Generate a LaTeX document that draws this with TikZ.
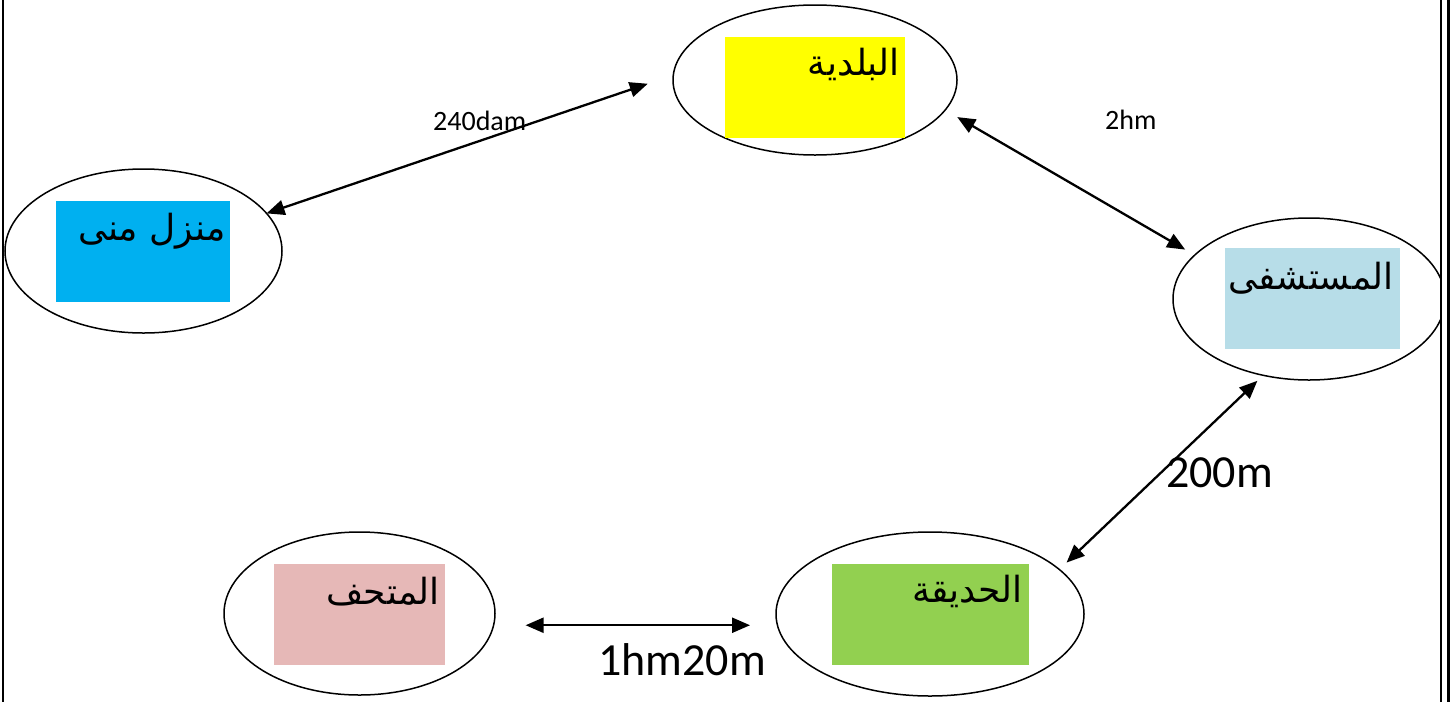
\documentclass[tikz,border=0pt]{standalone}
\usepackage{fontspec}
\setmainfont{Carlito}
\newfontfamily\arabicfont[Script=Arabic]{DejaVu Sans}
\TeXXeTstate=1
\usetikzlibrary{arrows.meta,shapes.geometric}
\definecolor{cyel}{HTML}{FFFF00}
\definecolor{cblue}{HTML}{00B0F0}
\definecolor{clblue}{HTML}{B7DDE8}
\definecolor{cgreen}{HTML}{92D050}
\definecolor{cpink}{HTML}{E6B8B7}
\begin{document}
\begin{tikzpicture}[x=1pt,y=-1pt,
  place/.style 2 args={draw, ellipse, line width=1.5pt, inner sep=0pt, outer sep=0pt, minimum width=#1, minimum height=#2},
  colbox/.style 2 args={fill=#1, draw=none, inner sep=0pt, outer sep=0pt, minimum width=#2, minimum height=101pt},
  arlabel/.style={anchor=base east, inner sep=0pt, font=\arabicfont\fontsize{36}{42}\selectfont},
  smalllab/.style={anchor=base west, inner sep=0pt, font=\fontsize{28}{34}\selectfont},
  biglab/.style={anchor=base west, inner sep=0pt, font=\fontsize{46}{55}\selectfont},
  conn/.style={{Triangle[length=18pt,width=15pt]}-{Triangle[length=18pt,width=15pt]}, line width=2.3pt},
  border/.style={line width=2.5pt}
]
\useasboundingbox (0,0) rectangle (1453,702);

% places
\node[place={284pt}{150pt}] (baladia) at (815,80) {};
\node[place={277pt}{164pt}] (mona) at (143.5,251) {};
\node[place={272pt}{162pt}] (hospital) at (1309,299) {};
\node[place={308pt}{164pt}] (garden) at (930,614) {};
\node[place={271pt}{163pt}] (museum) at (359.5,613.5) {};

% coloured boxes
\node[colbox={cyel}{180pt}] (bbaladia) at (815,87) {};
\node[colbox={cblue}{174pt}] (bmona) at (143,251.5) {};
\node[colbox={clblue}{175pt}] (bhospital) at (1312.5,298.5) {};
\node[colbox={cgreen}{197pt}] (bgarden) at (930.5,614.5) {};
\node[colbox={cpink}{171pt}] (bmuseum) at (359.5,614) {};

% arabic names
\node[arlabel] (tbaladia) at ([xshift=-5pt,yshift=-39pt]bbaladia.north east) {\beginR البلدية\endR};
\node[arlabel] (tmona) at ([xshift=-4pt,yshift=-39pt]bmona.north east) {\beginR منزل منى\endR};
\node[arlabel] (thospital) at ([xshift=-6pt,yshift=-41pt]bhospital.north east) {\beginR المستشفى\endR};
\node[arlabel] (tgarden) at ([xshift=-6pt,yshift=-38pt]bgarden.north east) {\beginR الحديقة\endR};
\node[arlabel] (tmuseum) at ([xshift=-5pt,yshift=-41pt]bmuseum.north east) {\beginR المتحف\endR};

% connectors
\draw[conn, shorten >=27pt] (mona.17) -- (baladia.178);
\draw[conn, shorten <=14pt, shorten >=11pt] (baladia.-13) -- (hospital.159);
\draw[conn, shorten <=8pt, shorten >=10pt] (hospital.239) -- (garden.19);
\draw[conn, shorten <=32pt, shorten >=28pt] (museum.-5.8) -- (museum.-5.8 -| garden.185);

% distance labels
\node[smalllab] (l1) at (433,130) {240dam};
\node[smalllab] (l2) at (1105,129) {2hm};
\node[biglab] (l3) at (1166,487) {200m};
\node[biglab] (l4) at (598,675) {1hm20m};

% frame
\draw[line width=2pt] (3,0) -- (3,702);
\fill[white] (1441,0) rectangle (1449,702);
\draw[border] (1441,0) -- (1441,702);
\draw[border] (1448.5,0) -- (1448.5,702);
\end{tikzpicture}
\end{document}
